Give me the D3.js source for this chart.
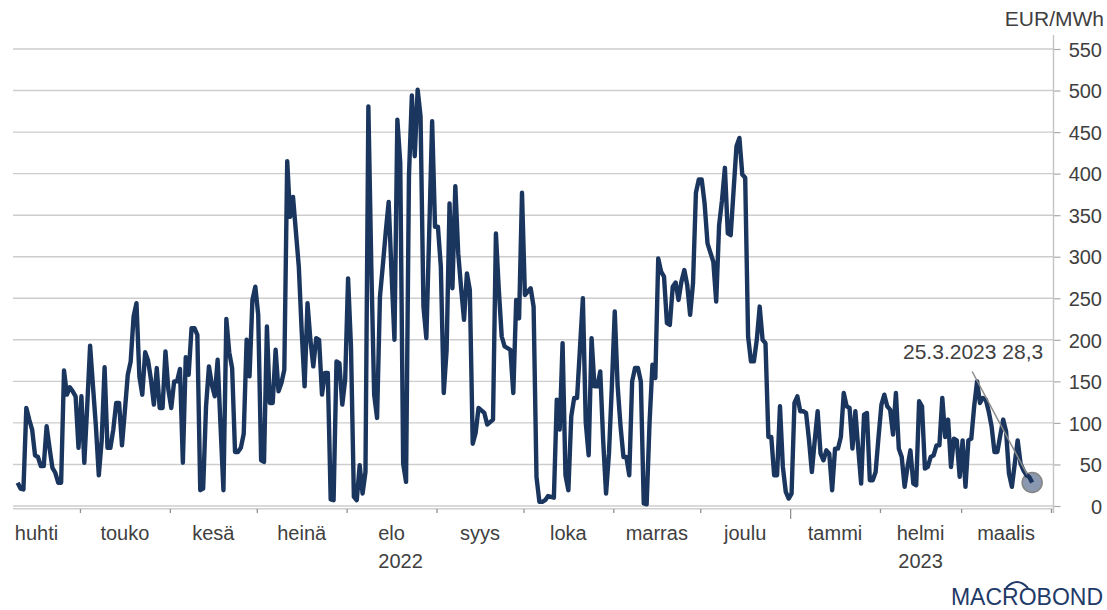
<!DOCTYPE html>
<html><head><meta charset="utf-8">
<script src="https://cdn.jsdelivr.net/npm/d3@7"></script>
<style>
html,body{margin:0;padding:0;background:#fff;overflow:hidden;}
svg{display:block;font-family:"Liberation Sans",Arial,Helvetica,sans-serif;}
</style></head><body>
<svg id="chart" width="1107" height="610"></svg>
<script>
// ---- data ----
const startDate = "2022-04-09";          // first daily observation
const prices = [
 28,21,20,118,104,92,61,59,48,48,
 96,70,46,40,28,28,163,134,143,138,
 132,70,132,52,120,193,144,96,37,79,
 167,70,70,92,124,124,73,115,158,174,
 228,244,156,134,185,175,152,122,166,118,
 118,186,140,118,150,150,165,52,179,158,
 214,214,206,19,21,120,168,146,132,176,
 96,19,225,185,166,65,65,70,87,200,
 156,248,264,230,55,53,216,124,124,188,
 138,148,164,415,348,372,330,288,210,144,
 244,200,168,202,200,134,160,160,8,7,
 174,172,122,152,274,192,11,7,49,15,
 41,481,290,134,106,252,290,330,366,280,
 200,465,413,51,29,397,494,421,501,469,
 240,202,330,463,336,336,288,136,188,364,
 262,385,304,262,224,280,260,75,88,118,
 115,112,98,101,104,328,260,204,192,190,
 188,136,248,226,377,254,258,262,240,35,
 5,5,7,12,11,10,128,92,196,37,
 19,108,130,130,190,250,100,61,202,144,
 144,162,79,15,63,144,234,144,96,59,
 59,37,150,166,166,150,3,2,100,170,
 154,298,282,276,220,218,264,269,248,270,
 284,266,230,268,377,393,393,364,316,305,
 294,246,338,368,407,328,326,380,433,443,
 399,395,204,174,174,200,240,200,196,83,
 83,37,37,120,47,17,9,15,124,132,
 114,114,112,80,41,79,114,63,55,67,
 63,19,69,69,83,136,120,118,69,114,
 69,27,110,112,31,31,41,83,122,134,
 120,116,86,136,69,59,23,47,67,27,
 25,126,120,45,47,59,61,73,73,130,
 83,104,47,81,79,35,79,23,79,81,
 120,150,124,130,128,114,96,65,65,85,
 104,90,39,23,51,79,51,43,37,35,28.3
];
const monthLabels = ["huhti","touko","kesä","heinä","elo","syys","loka","marras","joulu","tammi","helmi","maalis"];
const yearLabels = [{text:"2022", monthIndex:4},{text:"2023", monthIndex:10}];
const yTicks = [0,50,100,150,200,250,300,350,400,450,500,550];
const unitLabel = "EUR/MWh";
const axisStart = "2022-04-01", axisEnd = "2023-04-01";

// ---- build ----
const parse = d3.utcParse("%Y-%m-%d");
const t0 = parse(startDate);
const series = prices.map((v,i)=>({date:d3.utcHour.offset(d3.utcDay.offset(t0,i),12), day:d3.utcDay.offset(t0,i), v}));

const svg = d3.select("#chart");
const plotL = 13, plotR = 1053.5, plotT = 49, plotB = 506;

const x = d3.scaleUtc().domain([parse(axisStart), parse(axisEnd)]).range([-7, 1051]);
const y = d3.scaleLinear().domain([0,550]).range([plotB, plotT]);

const textCol = "#404040";
const gridCol = "#cdcdcd";

// gridlines
svg.append("g").selectAll("line").data(yTicks).join("line")
  .attr("x1", plotL).attr("x2", plotR)
  .attr("y1", d=>y(d)).attr("y2", d=>y(d))
  .attr("stroke", gridCol).attr("stroke-width", 1.4);

// right axis
const yAxis = d3.axisRight(y).tickValues(yTicks).tickSize(7).tickPadding(0).tickFormat(d3.format("d"));
const gy = svg.append("g").attr("transform", `translate(${plotR},0)`).call(yAxis);
gy.select(".domain").remove();
gy.selectAll(".tick line").attr("stroke", "#aaaaaa").attr("stroke-width", 1.2);
gy.selectAll(".tick text").attr("x", 48.5).attr("text-anchor","end").attr("dy","0.36em")
  .attr("fill", textCol).style("font-size","20px");
svg.append("line").attr("x1",plotR).attr("x2",plotR).attr("y1",35).attr("y2",513)
  .attr("stroke","#c4c4c4").attr("stroke-width",1.4);

svg.append("text").attr("x", 1104).attr("y", 26).attr("text-anchor","end")
  .attr("fill", textCol).style("font-size","21px").text(unitLabel);

// x axis line
svg.append("line").attr("x1",plotL).attr("x2",plotR).attr("y1",508.8).attr("y2",508.8)
  .attr("stroke","#d0d0d0").attr("stroke-width",1.4);

const months = d3.utcMonth.range(parse(axisStart), d3.utcDay.offset(parse(axisEnd),1));
const tickMonths = months.slice(1);
const xAxis = d3.axisBottom(x).tickValues(tickMonths).tickSize(4).tickFormat("");
const gx = svg.append("g").attr("transform","translate(0,509)").call(xAxis);
gx.select(".domain").remove();
gx.selectAll(".tick line").attr("stroke","#909090").attr("stroke-width",1.3)
  .attr("y2", d=> d.getUTCMonth()===0 ? 10 : 4);

// month labels at month midpoints
const monthSpans = months.slice(0,12).map((m,i)=>({start:m, end:d3.utcMonth.offset(m,1), label:monthLabels[i]}));
svg.append("g").selectAll("text").data(monthSpans).join("text")
  .attr("x", d=> (x(d.start)+x(d.end))/2)
  .attr("y", 540)
  .attr("text-anchor","middle")
  .attr("fill", textCol).style("font-size","20px")
  .text(d=>d.label);
svg.append("g").selectAll("text").data(yearLabels).join("text")
  .attr("x", d=> (x(monthSpans[d.monthIndex].start)+x(monthSpans[d.monthIndex].end))/2 + (d.monthIndex===4?9:0))
  .attr("y", 568)
  .attr("text-anchor","middle")
  .attr("fill", textCol).style("font-size","20px")
  .text(d=>d.text);

// annotation marker (under line)
const last = series[series.length-1];
const lx = x(last.date), ly = y(last.v);
svg.append("circle").attr("cx", lx).attr("cy", ly).attr("r", 10)
  .attr("fill","#8a98b0").attr("stroke","#858585").attr("stroke-width",1.5);

// main line
const line = d3.line().x(d=>x(d.date)).y(d=>y(d.v)).curve(d3.curveLinear);
svg.append("path").datum(series).attr("d", line)
  .attr("fill","none").attr("stroke","#1b365e").attr("stroke-width",4.4)
  .attr("stroke-linejoin","round").attr("stroke-linecap","butt");

// leader line + label
svg.append("line").attr("x1", lx-60).attr("y1", ly-111).attr("x2", lx-5).attr("y2", ly-8)
  .attr("stroke","#8a8a8a").attr("stroke-width",1.5);
const fmtDate = d => `${d.getUTCDate()}.${d.getUTCMonth()+1}.${d.getUTCFullYear()}`;
const fmtVal = v => d3.format(".1f")(v).replace(".",",");
svg.append("text").attr("x", lx+11).attr("y", ly-123).attr("text-anchor","end")
  .attr("fill", textCol).style("font-size","21px")
  .text(`${fmtDate(last.day)} ${fmtVal(last.v)}`);

// logo
const logo = svg.append("g");
logo.append("text").attr("x", 1103).attr("y", 605).attr("text-anchor","end")
  .attr("fill","#1f3a68").style("font-size","23px").text("MACROBOND");
logo.append("path").attr("d","M1006,588 Q1017,576 1028,588")
  .attr("fill","none").attr("stroke","#1f3a68").attr("stroke-width",2);
</script>
</body></html>
